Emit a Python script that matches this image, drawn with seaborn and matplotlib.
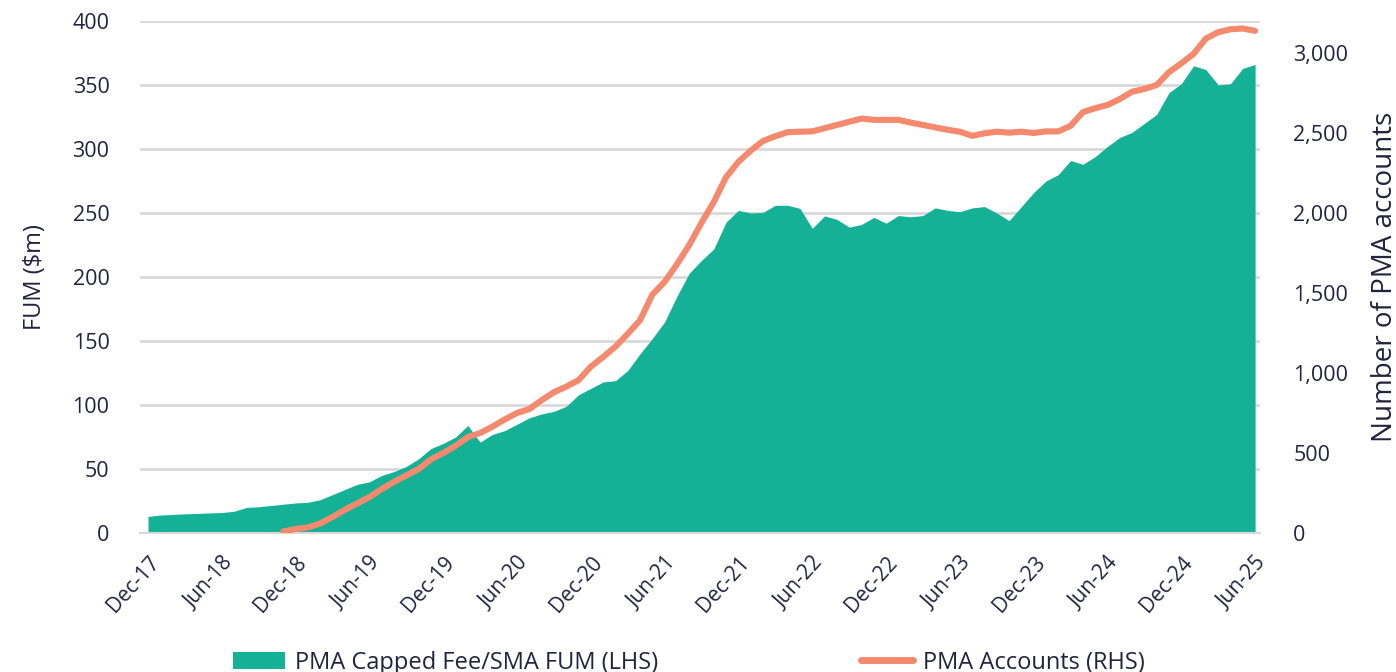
import numpy as np
import pandas as pd
import matplotlib
matplotlib.use("Agg")
import matplotlib.pyplot as plt
import matplotlib.ticker as mticker
from matplotlib.patches import Patch
from matplotlib.lines import Line2D
import seaborn as sns

# Monthly series, Dec-17 .. Jun-25
months = pd.date_range("2017-12-01", "2025-06-01", freq="MS")

fum = [13, 14, 14.5, 15, 15.3, 15.7, 16, 17, 20, 20.5, 21.5, 22.5, 23.5, 24, 26, 30,
       34, 38, 40, 45, 48, 52, 58, 66, 70, 75, 84, 71, 77, 80, 85, 90, 93, 95, 99, 108,
       113, 118, 119, 127, 140, 152, 165, 185, 203, 213, 222, 243, 252, 250, 250.5, 256,
       256, 253.6, 238, 247.7, 245, 239, 241, 246.6, 242, 248, 247, 248, 254, 252, 251,
       254, 255, 250, 244, 255, 266, 275, 280, 291, 288, 294, 302, 309, 313, 320, 327,
       344, 351, 365, 362, 350, 351, 363, 366]

accounts = [np.nan] * 11 + [
    10, 25, 35, 60, 100, 145, 185, 225, 275, 320, 360, 400, 460, 500, 545, 600, 625,
    665, 710, 750, 775, 830, 880, 915, 955, 1040, 1100, 1165, 1245, 1330, 1490, 1570,
    1680, 1800, 1940, 2070, 2225, 2320, 2390, 2450, 2480, 2505, 2508, 2510, 2530, 2550,
    2570, 2590, 2582, 2582, 2582, 2565, 2550, 2535, 2520, 2508, 2482, 2498, 2508, 2502,
    2508, 2500, 2510, 2510, 2545, 2630, 2655, 2675, 2712, 2758, 2775, 2800, 2880, 2935,
    2995, 3090, 3130, 3148, 3153, 3138]

tick_labels = [m.strftime("%b-%y") for m in months[::6]]

df = pd.DataFrame({"idx": np.arange(len(months)), "fum": fum, "accounts": accounts})

GREEN = "#15B196"
ORANGE = "#F4896D"
NAVY = "#23233F"
GRID = "#D9D9D9"

sns.set_theme(style="white")
plt.rcParams["font.family"] = ["Open Sans", "DejaVu Sans"]
plt.rcParams["text.color"] = NAVY
plt.rcParams["axes.labelcolor"] = NAVY
plt.rcParams["xtick.color"] = NAVY
plt.rcParams["ytick.color"] = NAVY

fig = plt.figure(figsize=(13.96, 6.72), dpi=100)
ax = fig.add_axes([0.1003, 0.2068, 0.8023, 0.7620])

# FUM area (LHS)
ax.fill_between(df["idx"], 0, df["fum"], color=GREEN, linewidth=0, zorder=2)
ax.set_ylim(0, 400)
ax.set_yticks(np.arange(0, 401, 50))
ax.yaxis.grid(True, color=GRID, linewidth=2)
ax.set_axisbelow(True)
ax.set_xlim(-0.65, 90.4)
ax.set_xticks(df["idx"][::6])
ax.set_xticklabels(tick_labels, rotation=48, ha="right", rotation_mode="anchor")
ax.tick_params(axis="x", length=6, width=1.5, color=GRID, labelsize=15, pad=8)
ax.tick_params(axis="y", length=0, labelsize=15.5, pad=22)
ax.set_ylabel("FUM ($m)", fontsize=17, labelpad=18)
for s in ["top", "left", "right"]:
    ax.spines[s].set_visible(False)
ax.spines["bottom"].set_color(GRID)
ax.spines["bottom"].set_linewidth(1.5)

# PMA accounts line (RHS)
ax2 = ax.twinx()
sns.lineplot(data=df, x="idx", y="accounts", ax=ax2, color=ORANGE, linewidth=4.4,
             solid_capstyle="round", legend=False)
ax2.set_ylim(0, 3200)
ax2.set_yticks(np.arange(0, 3001, 500))
ax2.yaxis.set_major_formatter(mticker.StrMethodFormatter("{x:,.0f}"))
ax2.tick_params(axis="y", length=0, labelsize=15.5, pad=24)
ax2.set_ylabel("Number of PMA accounts", fontsize=20, labelpad=16)
ax2.set_xlabel("")
for s in ax2.spines.values():
    s.set_visible(False)
ax2.set_xlim(-0.65, 90.4)

handles = [Patch(facecolor=GREEN, edgecolor="none", label="PMA Capped Fee/SMA FUM (LHS)"),
           Line2D([0], [0], color=ORANGE, linewidth=5, solid_capstyle="round",
                  label="PMA Accounts (RHS)")]
fig.legend(handles=handles, loc="center", bbox_to_anchor=(0.4936, 0.014), ncol=2,
           frameon=False, fontsize=17, handlelength=2.2, handleheight=0.7,
           handletextpad=0.42, columnspacing=8.6)

fig.savefig("out.png", dpi=100)
